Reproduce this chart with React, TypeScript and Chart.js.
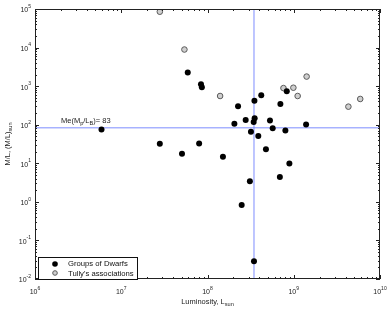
import { useEffect, useRef } from "react";
import { Chart, registerables } from "chart.js";

Chart.register(...registerables);

// ---- Data ----
const dwarfLuminosity = [
  5.9e6, 2.8e7, 5.06e7, 5.9e7, 8.0e7, 8.4e7, 8.6e7, 1.51e8, 2.05e8, 2.26e8,
  2.49e8, 2.77e8, 3.1e8, 3.19e8, 3.43e8, 3.46e8, 3.5e8, 3.52e8, 3.88e8, 4.2e8,
  4.76e8, 5.3e8, 5.7e8, 6.9e8, 7.0e8, 8.0e8, 8.3e8, 8.9e8, 1.39e9,
];
const dwarfML = [
  75, 32, 17.6, 2250, 32.6, 1120, 933, 14.7, 106, 299,
  0.83, 132, 3.4, 66, 117, 0.029, 421, 148, 51, 578,
  23, 129, 81, 4.4, 344, 71, 735, 9.8, 102,
];
const tullyLuminosity = [2.8e7, 5.4e7, 1.4e8, 7.6e8, 9.9e8, 1.11e9, 1.41e9, 4.3e9, 5.9e9];
const tullyML = [8.5e4, 8900, 555, 890, 910, 555, 1770, 294, 465];

const meanML = 83;
const meanLabel = "83";
const verticalLuminosity = 3.46e8;
const xDecades = [6, 7, 8, 9, 10];
const yDecades = [-2, -1, 0, 1, 2, 3, 4, 5];
const seriesNames = ["Groups of Dwarfs", "Tully's associations"];

const FONT = "'Liberation Sans', Arial, Helvetica, sans-serif";
const AXIS_COLOR = "#222222";
const LINE_COLOR = "#7d8cff";
const GRAY_FILL = "#cfcfcf";
const GRAY_EDGE = "#5a5a5a";

function drawPower(ctx: CanvasRenderingContext2D, exp: number, x: number, y: number, align: "center" | "right") {
  ctx.textBaseline = "middle";
  ctx.textAlign = "left";
  ctx.font = `7px ${FONT}`;
  const base = "10";
  const w1 = ctx.measureText(base).width;
  ctx.font = `5px ${FONT}`;
  const e = String(exp);
  const w2 = ctx.measureText(e).width;
  const total = w1 + w2;
  const start = align === "center" ? x - total / 2 : x - total;
  ctx.font = `7px ${FONT}`;
  ctx.fillText(base, start, y + 1.5);
  ctx.font = `5px ${FONT}`;
  ctx.fillText(e, start + w1, y - 2.5);
}

function drawWithSub(ctx: CanvasRenderingContext2D, parts: [string, boolean][], x: number, y: number, size: number, align: "left" | "center") {
  const subSize = size * 0.75;
  let total = 0;
  for (const [t, sub] of parts) {
    ctx.font = `${sub ? subSize : size}px ${FONT}`;
    total += ctx.measureText(t).width;
  }
  let cx = align === "center" ? x - total / 2 : x;
  ctx.textAlign = "left";
  ctx.textBaseline = "alphabetic";
  for (const [t, sub] of parts) {
    ctx.font = `${sub ? subSize : size}px ${FONT}`;
    ctx.fillText(t, cx, sub ? y + 2 : y);
    cx += ctx.measureText(t).width;
  }
}

const framePlugin = {
  id: "frame",
  afterDatasetsDraw(chart: any) {
    const ctx: CanvasRenderingContext2D = chart.ctx;
    const { left, right, top, bottom } = chart.chartArea;
    const xs = chart.scales.x;
    const ys = chart.scales.y;
    ctx.save();
    ctx.strokeStyle = AXIS_COLOR;
    ctx.fillStyle = AXIS_COLOR;
    ctx.lineWidth = 1;
    // box
    ctx.strokeRect(left + 0.5, top + 0.5, right - left - 1, bottom - top - 1);
    // ticks
    ctx.beginPath();
    for (let d = xDecades[0]; d <= xDecades[xDecades.length - 1]; d++) {
      for (let m = 1; m <= 9; m++) {
        const v = m * Math.pow(10, d);
        if (v > Math.pow(10, xDecades[xDecades.length - 1])) break;
        const px = Math.round(xs.getPixelForValue(v)) + 0.5;
        const len = m === 1 ? 4 : 2;
        ctx.moveTo(px, bottom);
        ctx.lineTo(px, bottom - len);
        ctx.moveTo(px, top);
        ctx.lineTo(px, top + len);
      }
    }
    for (let d = yDecades[0]; d <= yDecades[yDecades.length - 1]; d++) {
      for (let m = 1; m <= 9; m++) {
        const v = m * Math.pow(10, d);
        if (v > Math.pow(10, yDecades[yDecades.length - 1])) break;
        const py = Math.round(ys.getPixelForValue(v)) + 0.5;
        const len = m === 1 ? 4 : 2;
        ctx.moveTo(left, py);
        ctx.lineTo(left + len, py);
        ctx.moveTo(right, py);
        ctx.lineTo(right - len, py);
      }
    }
    ctx.stroke();
    // tick labels
    for (const d of xDecades) {
      drawPower(ctx, d, xs.getPixelForValue(Math.pow(10, d)), bottom + 12, "center");
    }
    for (const d of yDecades) {
      drawPower(ctx, d, left - 4, ys.getPixelForValue(Math.pow(10, d)), "right");
    }
    // axis titles
    drawWithSub(ctx, [["Luminosity, L", false], ["sun", true]], (left + right) / 2, bottom + 25, 7.5, "center");
    ctx.save();
    ctx.translate(10, (top + bottom) / 2);
    ctx.rotate(-Math.PI / 2);
    drawWithSub(ctx, [["M/L, (M/L)", false], ["sun", true]], 0, 0, 7.5, "center");
    ctx.restore();
    // annotation
    const ly = ys.getPixelForValue(meanML);
    drawWithSub(
      ctx,
      [["Me(M", false], ["p", true], ["/L", false], ["B", true], [")= " + meanLabel, false]],
      61,
      ly - 5,
      7.5,
      "left"
    );
    // legend
    const bx = 38, by = 257, bw = 99, bh = 22;
    ctx.fillStyle = "#ffffff";
    ctx.fillRect(bx, by, bw, bh);
    ctx.strokeStyle = "#111111";
    ctx.strokeRect(bx + 0.5, by + 0.5, bw, bh);
    ctx.beginPath();
    ctx.fillStyle = "#000000";
    ctx.arc(55, 264, 2.8, 0, Math.PI * 2);
    ctx.fill();
    ctx.beginPath();
    ctx.fillStyle = GRAY_FILL;
    ctx.strokeStyle = GRAY_EDGE;
    ctx.arc(55, 273, 2.3, 0, Math.PI * 2);
    ctx.fill();
    ctx.stroke();
    ctx.fillStyle = "#111111";
    ctx.font = `7.7px ${FONT}`;
    ctx.textAlign = "left";
    ctx.textBaseline = "middle";
    ctx.fillText(seriesNames[0], 68, 264);
    ctx.fillText(seriesNames[1], 68, 273.5);
    ctx.restore();
  },
};

export default function App() {
  const ref = useRef<HTMLCanvasElement | null>(null);
  useEffect(() => {
    if (!ref.current) return;
    const chart = new Chart(ref.current, {
      type: "scatter",
      data: {
        datasets: [
          {
            label: seriesNames[0],
            data: dwarfLuminosity.map((x, i) => ({ x, y: dwarfML[i] })),
            backgroundColor: "#000000",
            borderColor: "#000000",
            borderWidth: 0,
            pointRadius: 3,
            order: 1,
          },
          {
            label: seriesNames[1],
            data: tullyLuminosity.map((x, i) => ({ x, y: tullyML[i] })),
            backgroundColor: GRAY_FILL,
            borderColor: GRAY_EDGE,
            borderWidth: 1,
            pointRadius: 2.8,
            order: 2,
          },
          {
            type: "line",
            label: "mean",
            data: [
              { x: Math.pow(10, xDecades[0]), y: meanML },
              { x: Math.pow(10, xDecades[xDecades.length - 1]), y: meanML },
            ],
            borderColor: LINE_COLOR,
            borderWidth: 1,
            pointRadius: 0,
            showLine: true,
            order: 5,
          },
          {
            type: "line",
            label: "vertical",
            data: [
              { x: verticalLuminosity, y: Math.pow(10, yDecades[0]) },
              { x: verticalLuminosity, y: Math.pow(10, yDecades[yDecades.length - 1]) },
            ],
            borderColor: LINE_COLOR,
            borderWidth: 1,
            pointRadius: 0,
            showLine: true,
            order: 5,
          },
        ] as any,
      },
      options: {
        animation: false,
        responsive: false,
        maintainAspectRatio: false,
        layout: { padding: { left: 35, right: 10, top: 9, bottom: 32 } },
        plugins: { legend: { display: false }, tooltip: { enabled: false } },
        scales: {
          x: { type: "logarithmic", display: false, min: 1e6, max: 1e10 },
          y: { type: "logarithmic", display: false, min: 1e-2, max: 1e5 },
        },
      },
      plugins: [framePlugin],
    });
    return () => chart.destroy();
  }, []);
  return (
    <div style={{ position: "fixed", left: 0, top: 0, width: 390, height: 311, background: "#ffffff" }}>
      <canvas ref={ref} width={390} height={311} style={{ display: "block", width: 390, height: 311 }} />
    </div>
  );
}
